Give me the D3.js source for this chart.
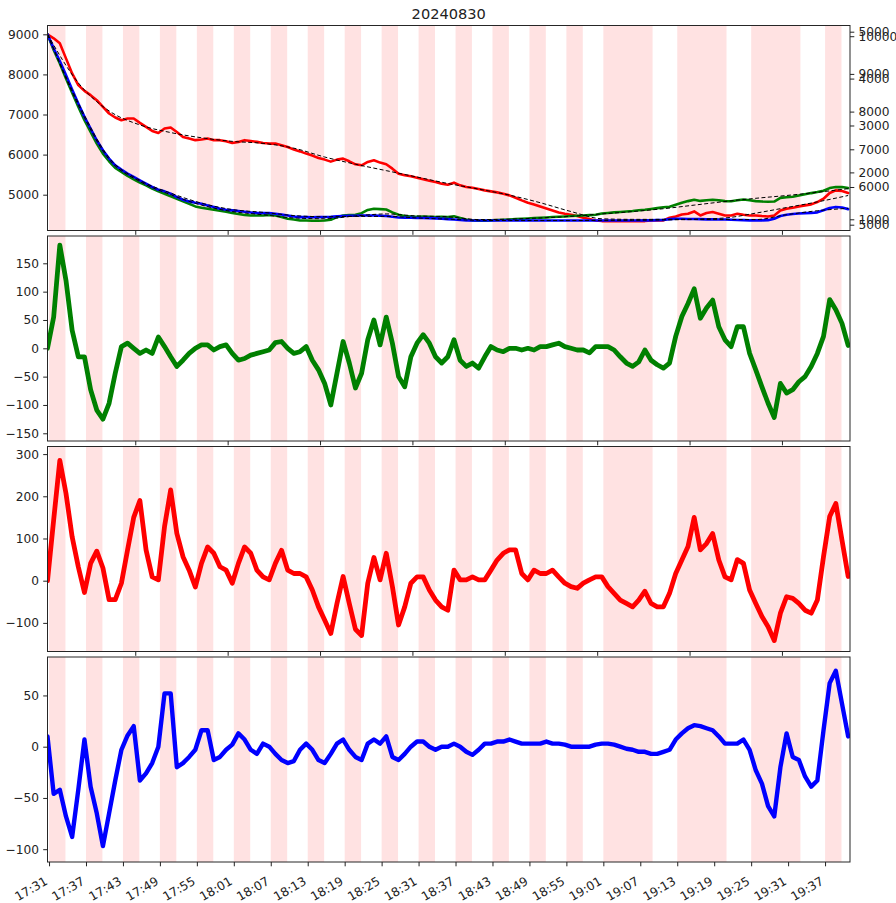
<!DOCTYPE html>
<html>
<head>
<meta charset="utf-8">
<script src="https://cdn.jsdelivr.net/npm/d3@7"></script>
<style>
  body { margin: 0; background: #fff; }
  svg text { font-family: "DejaVu Sans", sans-serif; }
</style>
</head>
<body>
<svg id="chart" width="896" height="903"></svg>
<script>
// ---- data -------------------------------------------------------------
const title = "20240830";
const day = "2024-08-30";
const sampleStart = "17:30:45";   // one sample per minute from here
const viewStart = "17:30:45";
const viewEnd = "19:41:03";

// top panel: smoothed levels (one value per minute)
const redLevel = [
  9000, 8900, 8775, 8400, 8025, 7733, 7590, 7483, 7358, 7190,
  7025, 6925, 6858, 6900, 6900, 6790, 6690, 6590, 6540, 6650,
  6675, 6565, 6440, 6400, 6360, 6375, 6400, 6360, 6360, 6335,
  6290, 6317, 6360, 6340, 6317, 6290, 6275, 6275, 6233, 6190,
  6125, 6080, 6025, 5975, 5917, 5875, 5825, 5875, 5900, 5833,
  5758, 5733, 5817, 5858, 5800, 5758, 5650, 5525, 5483, 5458,
  5425, 5383, 5350, 5317, 5275, 5250, 5300, 5233, 5192, 5175,
  5142, 5108, 5083, 5058, 5025, 4983, 4925, 4858, 4800, 4758,
  4708, 4658, 4608, 4558, 4525, 4500, 4467, 4425, 4392, 4358,
  4342, 4342, 4342, 4342, 4342, 4342, 4342, 4342, 4358, 4358,
  4360, 4425, 4458, 4508, 4525, 4583, 4483, 4542, 4567, 4525,
  4483, 4483, 4525, 4500, 4483, 4483, 4467, 4458, 4483, 4608,
  4650, 4675, 4708, 4733, 4758, 4817, 4900, 5042, 5108, 5092, 5042
];
const greenLevel = [
  9000, 8608, 8275, 7900, 7542, 7192, 6858, 6567, 6275, 6025,
  5833, 5667, 5567, 5467, 5383, 5300, 5233, 5150, 5083, 5025,
  4958, 4900, 4833, 4775, 4708, 4675, 4650, 4625, 4600, 4575,
  4542, 4517, 4492, 4483, 4483, 4483, 4492, 4483, 4442, 4400,
  4383, 4358, 4358, 4350, 4350, 4358, 4375, 4440, 4483, 4492,
  4500, 4540, 4620, 4650, 4640, 4630, 4560, 4500, 4470, 4458,
  4450, 4458, 4450, 4440, 4450, 4440, 4460, 4420, 4380, 4358,
  4350, 4350, 4360, 4370, 4375, 4383, 4392, 4400, 4408, 4417,
  4425, 4433, 4442, 4450, 4458, 4467, 4475, 4483, 4490, 4500,
  4530, 4545, 4560, 4570, 4580, 4592, 4610, 4625, 4645, 4665,
  4685, 4700, 4750, 4800, 4840, 4875, 4845, 4860, 4875, 4860,
  4840, 4835, 4860, 4880, 4860, 4840, 4830, 4825, 4830, 4920,
  4935, 4950, 4980, 5010, 5040, 5065, 5100, 5165, 5190, 5190, 5165
];
const blueLevel = [
  9000, 8650, 8333, 7983, 7625, 7275, 6942, 6650, 6358, 6108,
  5900, 5733, 5625, 5525, 5442, 5358, 5275, 5192, 5125, 5083,
  5025, 4942, 4875, 4833, 4800, 4775, 4733, 4692, 4650, 4625,
  4608, 4592, 4575, 4558, 4542, 4542, 4542, 4525, 4508, 4483,
  4458, 4440, 4440, 4438, 4440, 4445, 4450, 4460, 4470, 4475,
  4475, 4480, 4480, 4480, 4475, 4470, 4450, 4430, 4425, 4425,
  4420, 4420, 4415, 4410, 4400, 4390, 4380, 4370, 4360, 4355,
  4355, 4355, 4355, 4358, 4358, 4355, 4355, 4358, 4358, 4358,
  4355, 4355, 4358, 4358, 4358, 4358, 4355, 4355, 4358, 4358,
  4358, 4358, 4358, 4358, 4358, 4358, 4358, 4360, 4360, 4365,
  4370, 4390, 4400, 4400, 4395, 4395, 4390, 4385, 4385, 4380,
  4380, 4375, 4370, 4365, 4360, 4360, 4360, 4365, 4400, 4470,
  4500, 4520, 4530, 4540, 4545, 4560, 4610, 4670, 4695, 4680, 4640
];

// fitted trends, one value every five minutes
const fitStep = 5;
const redFit = [9000, 7790, 7090, 6740, 6550, 6420, 6330, 6280, 6160, 5940, 5760, 5600, 5440, 5280,
  5140, 4990, 4800, 4580, 4400, 4385, 4385, 4390, 4420, 4540, 4680, 4820, 4980];
const greenFit = [9000, 7230, 5880, 5330, 5000, 4740, 4580, 4500, 4420, 4400, 4470, 4520, 4470, 4450,
  4380, 4390, 4420, 4460, 4520, 4580, 4650, 4740, 4830, 4910, 4980, 5060, 5150];
const blueFit = [9000, 7290, 5920, 5360, 5040, 4790, 4630, 4560, 4480, 4450, 4460, 4460, 4420, 4390,
  4360, 4355, 4355, 4355, 4358, 4360, 4370, 4380, 4380, 4380, 4500, 4600, 4660];

// deviation panels (one value per minute)
const greenDev = [
  0, 55, 182, 120, 32, -15, -15, -73, -109, -125,
  -97, -44, 3, 9, 0, -9, -3, -9, 20, 3,
  -15, -32, -21, -9, 0, 6, 6, -3, 3, 6,
  -9, -21, -18, -12, -9, -6, -3, 10, 12, 0,
  -9, -6, 3, -21, -38, -62, -100, -44, 12, -26,
  -70, -44, 15, 50, 6, 55, 9, -50, -68, -15,
  9, 24, 9, -15, -26, -15, 15, -21, -32, -26,
  -35, -15, 3, -3, -6, 0, 0, -3, 0, -3,
  3, 3, 6, 9, 3, 0, -3, -3, -8, 3,
  3, 3, -3, -15, -26, -32, -24, -3, -21, -29,
  -35, -26, 21, 56, 79, 105, 53, 71, 85, 38,
  15, 3, 38, 38, -9, -38, -68, -97, -122, -62,
  -79, -73, -59, -50, -32, -9, 21, 86, 68, 44, 5
];
const redDev = [
  0, 144, 285, 207, 104, 33, -28, 41, 70, 30,
  -45, -45, -6, 73, 150, 190, 73, 9, 2, 128,
  215, 112, 57, 25, -15, 41, 80, 65, 33, 25,
  -6, 41, 80, 65, 25, 9, 2, 41, 72, 25,
  17, 17, 9, -22, -62, -93, -125, -54, 10, -54,
  -115, -130, -6, 55, 2, 65, -14, -105, -62, -6,
  9, 9, -22, -46, -62, -70, 25, 2, 2, 9,
  2, 2, 25, 49, 65, 73, 73, 17, 2, 25,
  17, 17, 25, 9, -6, -14, -18, -6, 2, 9,
  9, -14, -30, -46, -54, -62, -46, -25, -54, -62,
  -62, -30, 17, 49, 81, 150, 73, 88, 112, 49,
  9, 2, 50, 41, -22, -54, -85, -109, -142, -77,
  -38, -42, -54, -70, -77, -46, 57, 152, 183, 96, 10
];
const blueDev = [
  10, -46, -42, -68, -88, -42, 7, -39, -65, -97,
  -65, -33, -3, 11, 20, -33, -26, -16, 0, 52,
  52, -20, -16, -10, -3, 16, 16, -13, -10, -3,
  2, 13, 7, -3, -7, 3, 0, -7, -13, -16,
  -14, -3, 3, -3, -13, -16, -7, 3, 7, -3,
  -10, -13, 3, 7, 3, 10, -10, -13, -7, 0,
  5, 5, 0, -3, 0, 0, 3, 0, -5, -8,
  -3, 3, 3, 5, 5, 7, 5, 3, 3, 3,
  3, 5, 3, 3, 2, 0, 0, 0, 0, 2,
  3, 3, 2, 0, -2, -3, -5, -5, -7, -7,
  -5, -3, 7, 13, 18, 21, 20, 18, 16, 10,
  3, 3, 3, 7, -3, -23, -36, -58, -68, -20,
  13, -10, -13, -29, -39, -33, 16, 62, 74, 42, 10
];

// shaded periods
const bandStarts = ["17:31:00", "17:37:00", "17:43:00", "17:49:00", "17:55:00", "18:01:00", "18:07:00",
  "18:13:00", "18:19:00", "18:25:00", "18:31:00", "18:37:00", "18:43:00", "18:49:00", "18:55:00",
  "19:01:00", "19:13:00", "19:25:00", "19:37:00"];
const bandEnds = ["17:33:40", "17:39:40", "17:45:40", "17:51:40", "17:57:40", "18:03:40", "18:09:40",
  "18:15:40", "18:21:40", "18:27:40", "18:33:40", "18:39:40", "18:45:40", "18:51:40", "18:57:40",
  "19:09:00", "19:21:00", "19:33:00", "19:39:40"];

// axis limits and ticks
const levelLimits = [4107, 9220];
const levelTicks = [5000, 6000, 7000, 8000, 9000];
const rightLimitsA = [4846, 10284];
const rightTicksA = [5000, 6000, 7000, 8000, 9000, 10000];
const rightLimitsB = [761, 5132];
const rightTicksB = [1000, 2000, 3000, 4000, 5000];
const greenLimits = [-163.6, 198.2];
const greenTicks = [-150, -100, -50, 0, 50, 100, 150];
const redLimits = [-167.8, 318];
const redTicks = [-100, 0, 100, 200, 300];
const blueLimits = [-112.5, 87.5];
const blueTicks = [-100, -50, 0, 50];
const upperTimeTicks = ["17:45", "18:00", "18:15", "18:30", "18:45", "19:00", "19:15", "19:30"];
const bottomTimeTicks = ["17:31", "17:37", "17:43", "17:49", "17:55", "18:01", "18:07", "18:13", "18:19",
  "18:25", "18:31", "18:37", "18:43", "18:49", "18:55", "19:01", "19:07", "19:13", "19:19", "19:25",
  "19:31", "19:37"];

// ---- drawing ----------------------------------------------------------
const parseT = s => new Date(day + "T" + (s.length === 5 ? s + ":00" : s));
const t0 = parseT(sampleStart);
const times = d3.range(redLevel.length).map(i => d3.timeMinute.offset(t0, i));
const fitTimes = d3.range(redFit.length).map(i => d3.timeMinute.offset(t0, i * fitStep));

const svg = d3.select("#chart");
const plotLeft = 47.5, plotRight = 850, panelH = 205;
const panelTops = [25.5, 236, 446.5, 657];
const FS = 12.2, TICK = 4.3, PAD = 4.3;
const ink = "#222";

const x = d3.scaleTime().domain([parseT(viewStart), parseT(viewEnd)]).range([plotLeft, plotRight]);

function styleAxis(g) {
  g.attr("font-size", FS).attr("font-family", "DejaVu Sans, sans-serif").attr("color", ink);
  g.select(".domain").remove();
}

function panel(k, limits, ticks, opts) {
  const top = panelTops[k], bottom = top + panelH;
  const y = d3.scaleLinear().domain(limits).range([bottom, top]);
  const g = svg.append("g");
  const clipId = "clip" + k;
  svg.append("clipPath").attr("id", clipId)
    .append("rect").attr("x", plotLeft).attr("y", top).attr("width", plotRight - plotLeft).attr("height", panelH);

  // shaded periods
  g.append("g").selectAll("rect").data(bandStarts).join("rect")
    .attr("x", (d) => x(parseT(d)))
    .attr("width", (d, i) => x(parseT(bandEnds[i])) - x(parseT(d)))
    .attr("y", top).attr("height", panelH)
    .attr("fill", "#ff0000").attr("fill-opacity", 0.115);

  const body = g.append("g").attr("clip-path", `url(#${clipId})`);
  opts.draw(body, y);

  // frame
  g.append("rect").attr("x", plotLeft).attr("y", top).attr("width", plotRight - plotLeft).attr("height", panelH)
    .attr("fill", "none").attr("stroke", "#262626").attr("stroke-width", 1);

  // left axis
  g.append("g").attr("transform", `translate(${plotLeft},0)`)
    .call(d3.axisLeft(y).tickValues(ticks).tickFormat(d3.format("d")).tickSize(TICK).tickPadding(PAD))
    .call(styleAxis);

  return {y, g, top, bottom};
}

const lineOf = (y, ts) => d3.line().x((d, i) => x(ts[i])).y(d => y(d));

// panel 1: levels with fitted trends
const p1 = panel(0, levelLimits, levelTicks, {
  draw: (body, y) => {
    [[redLevel, "#ff0000"], [greenLevel, "#008000"], [blueLevel, "#0000ff"]].forEach(([s, c]) => {
      body.append("path").attr("d", lineOf(y, times)(s))
        .attr("fill", "none").attr("stroke", c).attr("stroke-width", 2.6)
        .attr("stroke-linejoin", "round").attr("stroke-linecap", "round");
    });
    [redFit, greenFit, blueFit].forEach(s => {
      body.append("path").attr("d", lineOf(y, fitTimes).curve(d3.curveMonotoneX)(s))
        .attr("fill", "none").attr("stroke", "#000").attr("stroke-width", 1)
        .attr("stroke-dasharray", "4,2.4");
    });
  }
});
// right-hand scales of the top panel
const yA = d3.scaleLinear().domain(rightLimitsA).range([p1.bottom, p1.top]);
const yB = d3.scaleLinear().domain(rightLimitsB).range([p1.bottom, p1.top]);
[[yA, rightTicksA], [yB, rightTicksB]].forEach(([sc, tv]) => {
  svg.append("g").attr("transform", `translate(${plotRight},0)`)
    .call(d3.axisRight(sc).tickValues(tv).tickFormat(d3.format("d")).tickSize(TICK).tickPadding(PAD))
    .call(styleAxis);
});

// deviation panels
[[greenDev, "#008000", greenLimits, greenTicks, 4.8],
 [redDev, "#ff0000", redLimits, redTicks, 4.8],
 [blueDev, "#0000ff", blueLimits, blueTicks, 4.4]].forEach(([s, c, lim, tv, w], j) => {
  panel(j + 1, lim, tv, {
    draw: (body, y) => {
      body.append("path").attr("d", lineOf(y, times)(s))
        .attr("fill", "none").attr("stroke", c).attr("stroke-width", w)
        .attr("stroke-linejoin", "round").attr("stroke-linecap", "round");
    }
  });
});

// time ticks: quarter-hour marks on the upper three panels
[0, 1, 2].forEach(k => {
  svg.append("g").attr("transform", `translate(0,${panelTops[k] + panelH})`)
    .call(d3.axisBottom(x).tickValues(upperTimeTicks.map(parseT)).tickFormat("").tickSize(TICK))
    .call(styleAxis);
});

// bottom panel: labelled time axis
const xb = svg.append("g").attr("transform", `translate(0,${panelTops[3] + panelH})`)
  .call(d3.axisBottom(x).tickValues(bottomTimeTicks.map(parseT)).tickFormat(d3.timeFormat("%H:%M"))
    .tickSize(TICK).tickPadding(0))
  .call(styleAxis);
xb.selectAll(".tick text")
  .attr("y", 0).attr("dy", "0.73em")
  .attr("text-anchor", "end")
  .attr("transform", "translate(-5.5,14) rotate(-30)");

// title
svg.append("text").attr("x", (plotLeft + plotRight) / 2).attr("y", 18.5)
  .attr("text-anchor", "middle").attr("font-size", 14.6).attr("fill", ink).text(title);
</script>
</body>
</html>
